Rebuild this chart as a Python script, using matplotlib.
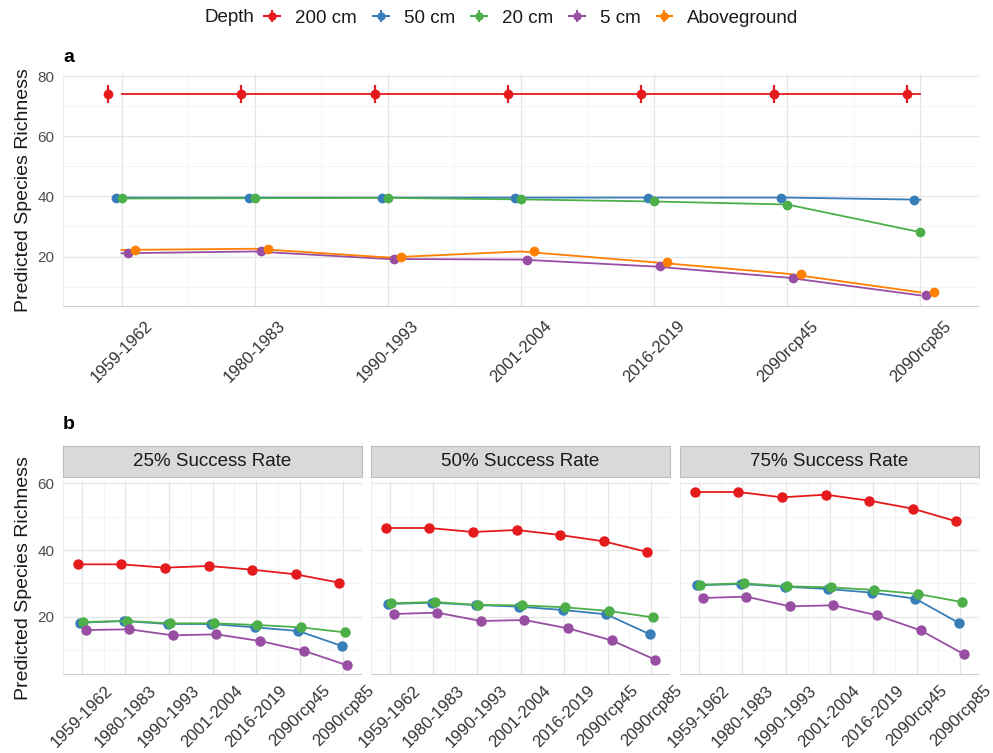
import matplotlib
matplotlib.use('Agg')
import matplotlib.pyplot as plt
from matplotlib.lines import Line2D
import numpy as np

plt.rcParams['font.family'] = ['Liberation Sans', 'DejaVu Sans']

periods = ["1959-1962", "1980-1983", "1990-1993", "2001-2004", "2016-2019", "2090rcp45", "2090rcp85"]
depths = ["200 cm", "50 cm", "20 cm", "5 cm", "Aboveground"]
colors = ["#E41A1C", "#377EB8", "#4DAF4A", "#984EA3", "#FF7F00"]

# Panel a: predicted richness (mean) and error half-widths
a_200 = [74.0, 74.0, 74.0, 74.0, 74.0, 74.0, 74.0]
a_50 = [39.6, 39.6, 39.6, 39.6, 39.6, 39.6, 38.9]
a_20 = [39.3, 39.4, 39.5, 39.0, 38.3, 37.3, 28.1]
a_5 = [21.1, 21.7, 19.2, 19.0, 16.7, 13.0, 7.1]
a_above = [22.2, 22.6, 19.7, 21.7, 18.1, 14.3, 8.1]
a_err_200 = [3.0, 3.0, 3.0, 3.0, 3.0, 3.0, 3.0]
a_err_50 = [1.0, 1.0, 1.0, 1.0, 1.0, 1.0, 1.0]
a_err_20 = [0.5, 0.5, 0.5, 0.5, 0.5, 0.5, 0.5]
a_err_5 = [0.3, 0.3, 0.3, 0.3, 0.3, 0.3, 0.3]
a_err_above = [0.3, 0.3, 0.3, 0.3, 0.3, 0.3, 0.3]

# Panel b: by success rate
rates = ["25% Success Rate", "50% Success Rate", "75% Success Rate"]
b25_200 = [35.7, 35.7, 34.7, 35.2, 34.1, 32.7, 30.2]
b25_50 = [18.2, 18.7, 17.8, 17.8, 16.8, 15.7, 11.2]
b25_20 = [18.4, 18.7, 18.0, 18.0, 17.5, 16.8, 15.3]
b25_5 = [16.0, 16.2, 14.4, 14.7, 12.7, 9.8, 5.4]
b50_200 = [46.6, 46.6, 45.4, 46.0, 44.5, 42.6, 39.4]
b50_50 = [23.8, 24.2, 23.5, 23.0, 22.0, 20.7, 14.7]
b50_20 = [24.0, 24.4, 23.5, 23.4, 22.8, 21.7, 19.8]
b50_5 = [20.8, 21.2, 18.7, 19.0, 16.5, 12.9, 7.1]
b75_200 = [57.4, 57.4, 55.8, 56.6, 54.8, 52.4, 48.6]
b75_50 = [29.4, 29.8, 29.0, 28.3, 27.2, 25.4, 18.1]
b75_20 = [29.6, 30.0, 29.1, 28.8, 28.0, 26.8, 24.4]
b75_5 = [25.6, 26.0, 23.1, 23.4, 20.4, 15.9, 8.7]

W, H = 993, 753
fig = plt.figure(figsize=(W / 100, H / 100), dpi=100)


def add_ax(l, t, r, b):
    return fig.add_axes([l / W, 1 - b / H, (r - l) / W, (b - t) / H])


GRID_MAJ = "#E6E6E6"
GRID_MIN = "#F2F2F2"
TXT = "#4D4D4D"


def style_axes(ax, yticks, yminor, n, xpad, show_ylabels=True):
    ax.set_facecolor("white")
    for s in ax.spines.values():
        s.set_visible(False)
    ax.spines["left"].set_visible(True)
    ax.spines["left"].set_color("#EDEDED")
    ax.set_xticks(np.arange(n))
    ax.set_xticks(np.arange(n - 1) + 0.5, minor=True)
    ax.set_yticks(yticks)
    ax.set_yticks(yminor, minor=True)
    ax.grid(True, which="major", color=GRID_MAJ, lw=0.9)
    ax.grid(True, which="minor", color=GRID_MIN, lw=0.6)
    ax.set_axisbelow(True)
    ax.tick_params(which="both", length=0)
    ax.tick_params(axis="y", labelsize=11, labelcolor=TXT, pad=6)
    ax.tick_params(axis="x", pad=xpad)
    ax.set_xticklabels(periods, rotation=45, ha="center", va="top",
                       fontsize=12, color="#333333")
    if not show_ylabels:
        ax.set_yticklabels([])
    ax.axhline(ax.get_ylim()[0], color="#BFBFBF", lw=1.2, zorder=1)


# ---------------- Panel a ----------------
axa = add_ax(63, 74, 979, 307)
x = np.arange(len(periods))
a_vals = [a_200, a_50, a_20, a_5, a_above]
a_errs = [a_err_200, a_err_50, a_err_20, a_err_5, a_err_above]
a_off = [-0.1, -0.045, 0.0, 0.045, 0.1]
for vals, errs, c, off in zip(a_vals, a_errs, colors, a_off):
    axa.plot(x, vals, color=c, lw=1.3, zorder=2)
    axa.errorbar(x + off, vals, yerr=errs, fmt="o", color=c, ms=6,
                 elinewidth=1.6, capsize=0, zorder=3)
axa.set_xlim(-0.44, 6.44)
axa.set_ylim(3.24, 80.67)
style_axes(axa, [20, 40, 60, 80], [10, 30, 50, 70], len(periods), xpad=8)
axa.set_ylabel("Predicted Species Richness", fontsize=14, color="#1A1A1A", labelpad=4)
fig.text(63 / W, 1 - 57 / H, "a", fontsize=14, fontweight="bold", ha="left", va="center")

# ---------------- Panel b ----------------
b_data = [
    [b25_200, b25_50, b25_20, b25_5],
    [b50_200, b50_50, b50_20, b50_5],
    [b75_200, b75_50, b75_20, b75_5],
]
b_off = [-0.09, -0.03, 0.03, 0.09]
lefts = [63, 371, 680]
width = 299
for i, (rate, series) in enumerate(zip(rates, b_data)):
    l = lefts[i]
    ax = add_ax(l, 481, l + width, 675)
    for vals, c, off in zip(series, colors[:4], b_off):
        ax.plot(x + off, vals, color=c, lw=1.3, marker="o", ms=6.5, zorder=3)
    ax.set_xlim(-0.43, 6.43)
    ax.set_ylim(2.5, 60.7)
    style_axes(ax, [20, 40, 60], [10, 30, 50], len(periods), xpad=5.5,
               show_ylabels=(i == 0))
    if i == 0:
        ax.set_ylabel("Predicted Species Richness", fontsize=14, color="#1A1A1A", labelpad=4)
    sax = add_ax(l, 446, l + width, 477)
    sax.set_facecolor("#D9D9D9")
    sax.set_xticks([])
    sax.set_yticks([])
    for s in sax.spines.values():
        s.set_color("#BDBDBD")
        s.set_linewidth(0.8)
    sax.text(0.5, 0.5, rate, transform=sax.transAxes, ha="center", va="center",
             fontsize=13.5, color="#1A1A1A")
fig.text(63 / W, 1 - 424 / H, "b", fontsize=14, fontweight="bold", ha="left", va="center")

# ---------------- Legend ----------------
fig.text(205 / W, 1 - 18 / H, "Depth", fontsize=13.5, ha="left", va="center", color="#1A1A1A")
handles = []
for d, c in zip(depths, colors):
    h_line = Line2D([], [], color=c, lw=1.5, marker="o", ms=5)
    h_bar = Line2D([], [], color=c, lw=0, marker="|", ms=8, mew=1.5)
    handles.append((h_line, h_bar))
leg = fig.legend(handles=handles, labels=depths, loc="center left",
                 bbox_to_anchor=(264 / W, 1 - 18 / H),
                 ncol=5, frameon=False, fontsize=13.5, handlelength=0.85,
                 handletextpad=0.8, columnspacing=0.85, borderaxespad=0, borderpad=0)
for t in leg.get_texts():
    t.set_color("#1A1A1A")

fig.savefig("out.png", dpi=100, facecolor="white")
